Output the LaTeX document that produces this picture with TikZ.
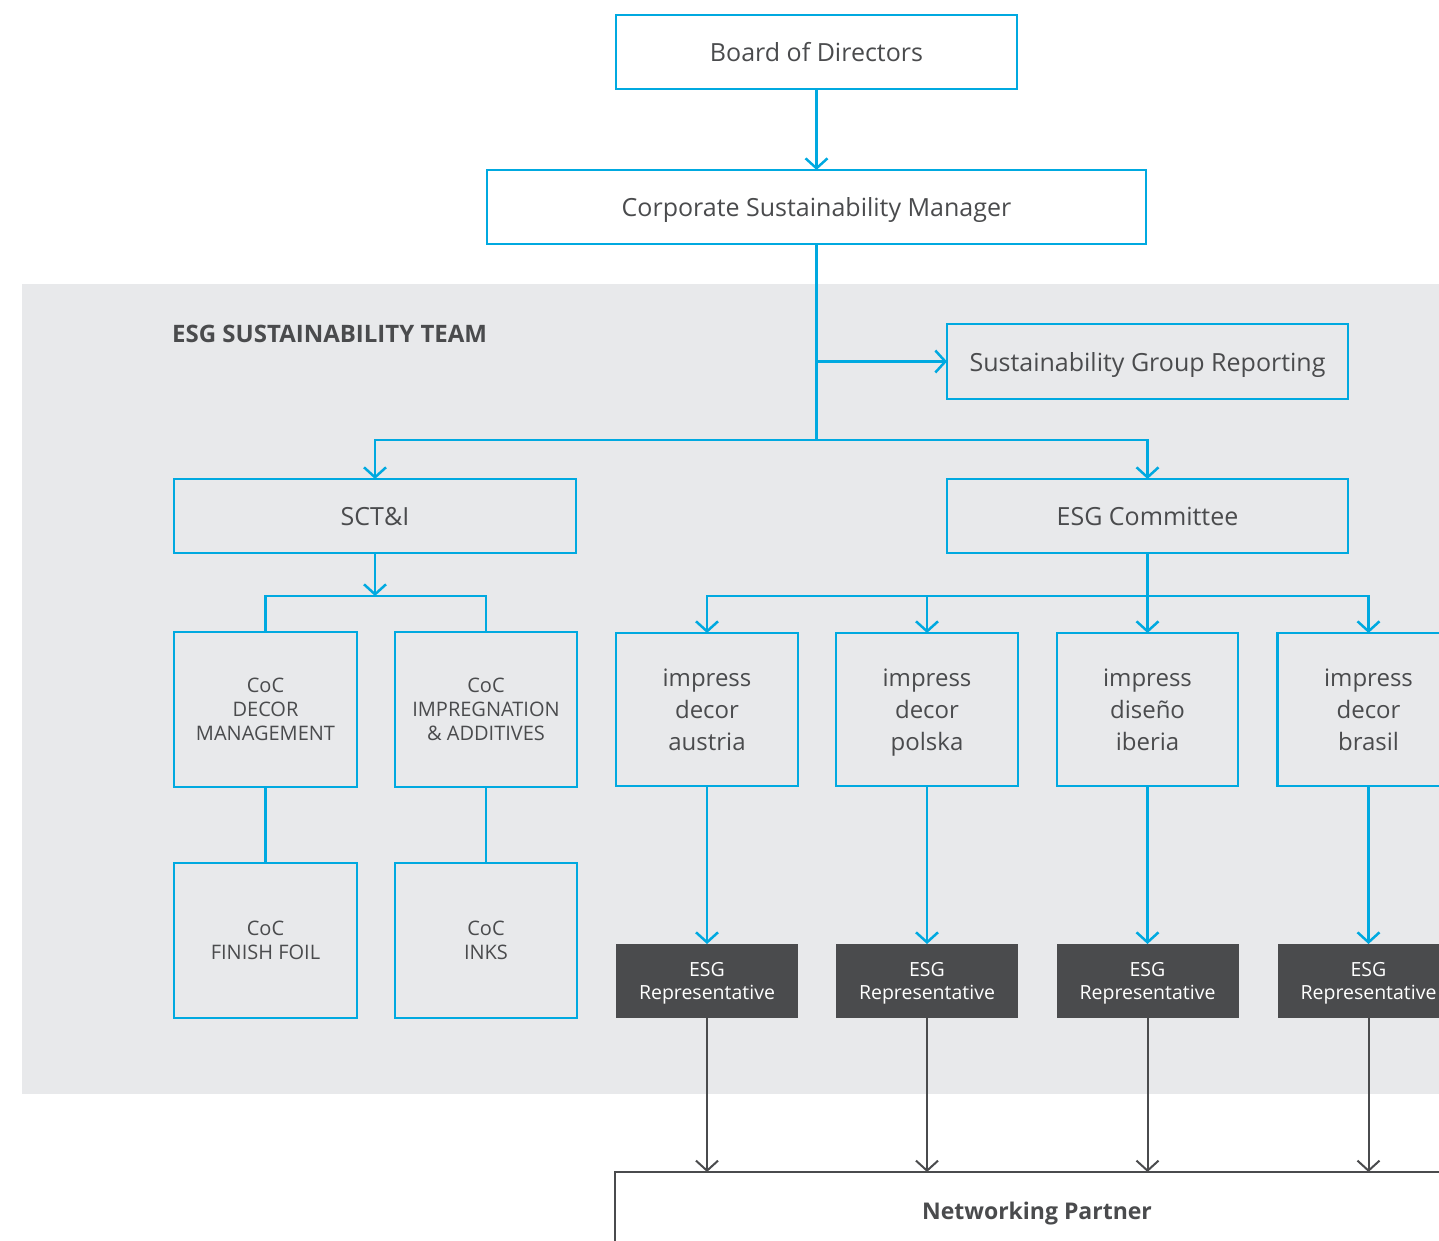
\documentclass[tikz,border=0pt]{standalone}
\usepackage{fontspec}
\setmainfont{Open Sans}
\usetikzlibrary{arrows.meta}
\definecolor{esgblue}{HTML}{00A9E0}
\definecolor{esggray}{HTML}{E8E9EB}
\definecolor{esgdark}{HTML}{4A4B4D}
\definecolor{esgtext}{HTML}{4A4B4D}
\begin{document}
\begin{tikzpicture}[x=1pt,y=-1pt,
  bluebox/.style={draw=esgblue, line width=2.5pt, text=esgtext, align=center, inner sep=0pt, outer sep=0pt, text depth=0pt},
  topbox/.style={bluebox, minimum height=74pt, font=\fontsize{25}{30}\selectfont},
  cocbox/.style={bluebox, minimum height=155pt, font=\fontsize{20}{24}\selectfont},
  impbox/.style={bluebox, minimum height=153pt, font=\fontsize{24}{32}\selectfont},
  repbox/.style={fill=esgdark, text=white, align=center, inner sep=0pt, outer sep=0pt, text depth=0pt, minimum width=182pt, minimum height=74pt, font=\fontsize{19.5}{23}\selectfont},
  bline/.style={draw=esgblue, line width=2.5pt},
  barr/.style={bline, -{Straight Barb[length=10pt, width=22pt, line width=2.5pt]}},
  garr/.style={draw=esgdark, line width=2pt, -{Straight Barb[length=10pt, width=22pt, line width=2pt]}}
]
\useasboundingbox (0,0) rectangle (1439,1240);
\clip (0,0) rectangle (1439,1240);
% gray band
\fill[esggray] (22,284) rectangle (1460,1094);
\node[anchor=base west, inner sep=0pt, text=esgtext, font=\fontsize{24}{28}\selectfont\bfseries] (title) at (172,342) {ESG SUSTAINABILITY TEAM};

% top boxes
\node[topbox, minimum width=401pt] (board) at (816.5,52) {Board of Directors};
\node[topbox, minimum width=659pt] (csm) at (816.5,207) {Corporate Sustainability Manager};
\node[topbox, minimum width=401pt, minimum height=75pt] (sgr) at (1147.5,361.5) {Sustainability Group Reporting};
\node[topbox, minimum width=402pt] (scti) at (375,516) {SCT\&I};
\node[topbox, minimum width=401pt] (esgc) at (1147.5,516) {ESG Committee};

% CoC boxes
\node[cocbox, minimum width=183pt] (cocdm) at (265.5,709.5) {CoC\\DECOR\\MANAGEMENT};
\node[cocbox, minimum width=182pt] (cocia) at (486,709.5) {CoC\\IMPREGNATION\\\& ADDITIVES};
\node[cocbox, minimum width=183pt] (cocff) at (265.5,940.5) {CoC\\FINISH FOIL};
\node[cocbox, minimum width=182pt] (cocink) at (486,940.5) {CoC\\INKS};

% impress boxes
\node[impbox, minimum width=182pt] (ida) at (707,709.5) {impress\\decor\\austria};
\node[impbox, minimum width=182pt] (idp) at (927,709.5) {impress\\decor\\polska};
\node[impbox, minimum width=181pt] (idi) at (1147.5,709.5) {impress\\diseño\\iberia};
\node[impbox, minimum width=182pt] (idb) at (1368.5,709.5) {impress\\decor\\brasil};

% representatives
\node[repbox] (rep1) at (707,981) {ESG\\Representative};
\node[repbox] (rep2) at (927,981) {ESG\\Representative};
\node[repbox] (rep3) at (1147.5,981) {ESG\\Representative};
\node[repbox] (rep4) at (1368.5,981) {ESG\\Representative};

% networking partner
\node[draw=esgdark, line width=2pt, fill=white, inner sep=0pt, outer sep=0pt, text depth=0pt, minimum width=844pt, minimum height=78pt, text=esgtext, font=\fontsize{23}{28}\selectfont\bfseries] (np) at (1037,1211) {Networking Partner};

% junctions
\coordinate (jtop) at (816.5,440);
\coordinate (jsgr) at (816.5,361.5);
\coordinate (jsc) at (375,596);
\coordinate (jesg) at (1147.5,596);

% connectors
\draw[barr] (board.south) -- (csm.north);
\draw[bline] (csm.south) -- (jtop);
\draw[barr] (jsgr) -- (sgr.west);
\draw[barr] (jtop) -| (scti.north);
\draw[barr] (jtop) -| (esgc.north);

\draw[barr] (scti.south) -- (jsc);
\draw[bline] (cocdm.north) |- (jsc) -| (cocia.north);
\draw[bline] (cocdm.south) -- (cocff.north);
\draw[bline] (cocia.south) -- (cocink.north);

\draw[bline] (esgc.south) -- (jesg);
\draw[barr] (jesg) -| (ida.north);
\draw[barr] (jesg) -| (idp.north);
\draw[barr] (jesg) -- (idi.north);
\draw[barr] (jesg) -| (idb.north);

\draw[barr] (ida.south) -- (rep1.north);
\draw[barr] (idp.south) -- (rep2.north);
\draw[barr] (idi.south) -- (rep3.north);
\draw[barr] (idb.south) -- (rep4.north);

\draw[garr] (rep1.south) -- (rep1.south |- np.north);
\draw[garr] (rep2.south) -- (rep2.south |- np.north);
\draw[garr] (rep3.south) -- (rep3.south |- np.north);
\draw[garr] (rep4.south) -- (rep4.south |- np.north);
\end{tikzpicture}
\end{document}
